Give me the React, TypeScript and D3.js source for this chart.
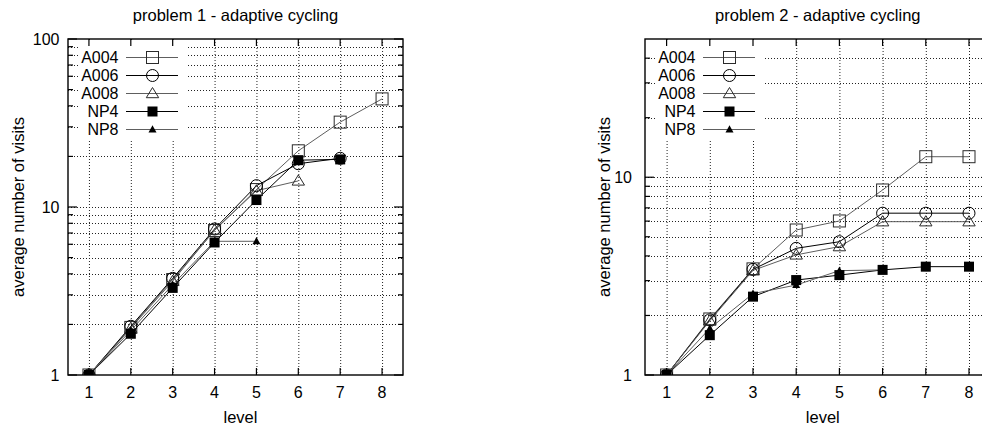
import React from 'react';
import * as d3 from 'd3';

// ---------- data ----------
const levels = [1, 2, 3, 4, 5, 6, 7, 8];
const seriesNames = ['A004', 'A006', 'A008', 'NP4', 'NP8'];

// problem 1
const p1A004 = [1, 1.92, 3.7, 7.25, 12.7, 21.6, 32, 44];
const p1A006 = [1, 1.95, 3.76, 7.4, 13.4, 18.1, 19.5];
const p1A008 = [1, 1.9, 3.62, 7.3, 12.5, 14.3];
const p1NP4 = [1, 1.76, 3.3, 6.15, 11.0, 19.0, 19.2];
const p1NP8 = [1, 1.84, 3.45, 6.25, 6.25];

// problem 2
const p2A004 = [1, 1.92, 3.44, 5.41, 6.01, 8.62, 12.7, 12.7];
const p2A006 = [1, 1.9, 3.42, 4.37, 4.72, 6.58, 6.58, 6.58];
const p2A008 = [1, 1.88, 3.38, 4.05, 4.46, 5.96, 5.96, 5.96];
const p2NP4 = [1, 1.59, 2.49, 3.02, 3.2, 3.4, 3.53, 3.53];
const p2NP8 = [1, 1.72, 2.58, 2.85, 3.37, 3.4];

const xTicks = [1, 2, 3, 4, 5, 6, 7, 8];
const yMajor1 = [1, 10, 100];
const yMinor1 = [2, 3, 4, 5, 6, 7, 8, 9, 20, 30, 40, 50, 60, 70, 80, 90];
const yMajor2 = [1, 10];
const yMinor2 = [2, 3, 4, 5, 6, 7, 8, 9, 20, 30, 40];
const titles = ['problem 1 - adaptive cycling', 'problem 2 - adaptive cycling'];
const xLabel = 'level';
const yLabel = 'average number of visits';

// ---------- styling ----------
const FONT = "'Liberation Sans', Arial, Helvetica, sans-serif";
const GRAY = '#5e5e5e';
const seriesStyle: Record<string, { color: string; mstroke: string; marker: string }> = {
  A004: { color: GRAY, mstroke: '#2a2a2a', marker: 'sq' },
  A006: { color: '#000', mstroke: '#000', marker: 'circle' },
  A008: { color: GRAY, mstroke: '#2a2a2a', marker: 'tri' },
  NP4: { color: '#000', mstroke: '#000', marker: 'fsq' },
  NP8: { color: GRAY, mstroke: '#000', marker: 'ftri' },
};

function Marker({ type, cx, cy, stroke }: { type: string; cx: number; cy: number; stroke: string }) {
  switch (type) {
    case 'sq':
      return <rect x={cx - 6} y={cy - 6} width={12} height={12} fill="none" stroke={stroke} strokeWidth={1} />;
    case 'circle':
      return <circle cx={cx} cy={cy} r={6} fill="none" stroke={stroke} strokeWidth={1} />;
    case 'tri':
      return (
        <polygon
          points={`${cx},${cy - 6} ${cx + 6.2},${cy + 4.2} ${cx - 6.2},${cy + 4.2}`}
          fill="none"
          stroke={stroke}
          strokeWidth={1}
        />
      );
    case 'fsq':
      return <rect x={cx - 5} y={cy - 5} width={10} height={10} fill="#000" />;
    case 'ftri':
      return <polygon points={`${cx},${cy - 4.2} ${cx + 4},${cy + 3} ${cx - 4},${cy + 3}`} fill="#000" />;
    default:
      return null;
  }
}

type PanelProps = {
  x0: number;
  x1: number;
  y0: number;
  y1: number;
  yMax: number;
  majors: number[];
  minors: number[];
  data: number[][];
  title: string;
  yLabelX: number;
  tickLabelX: number;
  clipId: string;
};

function Panel(p: PanelProps) {
  const x = d3.scaleLinear().domain([0.5, 8.5]).range([p.x0, p.x1]);
  const y = d3.scaleLog().domain([1, p.yMax]).range([p.y1, p.y0]);
  const line = d3
    .line<number>()
    .x((_, i) => x(levels[i]))
    .y((d) => y(d));
  const cxm = (p.x0 + p.x1) / 2;
  const gridY = [...p.majors, ...p.minors].filter((v) => v > 1 && v < p.yMax);
  const legX = p.x0;
  const legTop = p.y0;
  return (
    <g fontFamily={FONT}>
      <clipPath id={p.clipId}>
        <rect x={p.x0} y={p.y0} width={p.x1 - p.x0} height={p.y1 - p.y0} />
      </clipPath>
      {/* grid */}
      <g stroke="#222" strokeWidth={1} strokeDasharray="1 2" fill="none">
        {xTicks.map((t) => (
          <line key={'gx' + t} x1={x(t) + 0.5} x2={x(t) + 0.5} y1={p.y0} y2={p.y1} />
        ))}
        {gridY.map((v) => (
          <line key={'gy' + v} x1={p.x0} x2={p.x1} y1={Math.round(y(v)) + 0.5} y2={Math.round(y(v)) + 0.5} />
        ))}
      </g>
      {/* legend background */}
      <rect x={legX + 10} y={legTop + 1} width={108} height={100} fill="#fff" />
      {/* data */}
      <g clipPath={`url(#${p.clipId})`}>
        {p.data.map((vals, si) => {
          const st = seriesStyle[seriesNames[si]];
          return (
            <path key={'l' + si} d={line(vals) || ''} fill="none" stroke={st.color} strokeWidth={1} />
          );
        })}
        {p.data.map((vals, si) => {
          const st = seriesStyle[seriesNames[si]];
          return (
            <g key={'m' + si}>
              {vals.map((v, i) => (
                <Marker key={i} type={st.marker} cx={x(levels[i])} cy={y(v)} stroke={st.mstroke} />
              ))}
            </g>
          );
        })}
      </g>
      {/* border */}
      <rect x={p.x0} y={p.y0} width={p.x1 - p.x0} height={p.y1 - p.y0} fill="none" stroke="#000" strokeWidth={1.4} />
      {/* ticks */}
      <g stroke="#000" strokeWidth={1.2}>
        {xTicks.map((t) => (
          <g key={'tx' + t}>
            <line x1={x(t)} x2={x(t)} y1={p.y1} y2={p.y1 - 7} />
            <line x1={x(t)} x2={x(t)} y1={p.y0} y2={p.y0 + 7} />
          </g>
        ))}
        {p.majors.map((v) => (
          <g key={'tyM' + v}>
            <line x1={p.x0} x2={p.x0 + 9} y1={y(v)} y2={y(v)} />
            <line x1={p.x1} x2={p.x1 - 9} y1={y(v)} y2={y(v)} />
          </g>
        ))}
        {p.minors.map((v) => (
          <g key={'tym' + v}>
            <line x1={p.x0} x2={p.x0 + 5} y1={y(v)} y2={y(v)} />
            <line x1={p.x1} x2={p.x1 - 5} y1={y(v)} y2={y(v)} />
          </g>
        ))}
      </g>
      {/* tick labels */}
      <g fontSize={16} fill="#000">
        {xTicks.map((t) => (
          <text key={'lx' + t} x={x(t)} y={p.y1 + 22.5} textAnchor="middle">
            {t}
          </text>
        ))}
        {p.majors.map((v) => (
          <text key={'ly' + v} x={p.tickLabelX} y={y(v) + 5.8} textAnchor="end">
            {v}
          </text>
        ))}
      </g>
      {/* titles & labels */}
      <text x={cxm} y={20.5} textAnchor="middle" fontSize={16.5}>
        {p.title}
      </text>
      <text x={cxm + 5} y={422.5} textAnchor="middle" fontSize={16.5}>
        {xLabel}
      </text>
      <text
        transform={`translate(${p.yLabelX},${(p.y0 + p.y1) / 2}) rotate(-90)`}
        textAnchor="middle"
        fontSize={16.5}
      >
        {yLabel}
      </text>
      {/* legend */}
      {seriesNames.map((name, i) => {
        const st = seriesStyle[name];
        const ry = legTop + 18.5 + i * 18;
        return (
          <g key={'leg' + name}>
            <text x={legX + 50.5} y={ry + 5.6} textAnchor="end" fontSize={16}>
              {name}
            </text>
            <line x1={legX + 58} x2={legX + 110} y1={ry} y2={ry} stroke={st.color} strokeWidth={1.2} />
            <Marker type={st.marker} cx={legX + 84.5} cy={ry} stroke={st.mstroke} />
          </g>
        );
      })}
    </g>
  );
}

export default function App() {
  return (
    <div style={{ position: 'absolute', left: 0, top: 0 }}>
      <svg width={982} height={429} style={{ display: 'block', background: '#fff' }}>
        <rect x={0} y={0} width={982} height={429} fill="#fff" />
        <Panel
          x0={68}
          x1={403}
          y0={39}
          y1={375}
          yMax={100}
          majors={yMajor1}
          minors={yMinor1}
          data={[p1A004, p1A006, p1A008, p1NP4, p1NP8]}
          title={titles[0]}
          yLabelX={23.5}
          tickLabelX={59.5}
          clipId="clip1"
        />
        <Panel
          x0={645}
          x1={990.6}
          y0={39}
          y1={375}
          yMax={50}
          majors={yMajor2}
          minors={yMinor2}
          data={[p2A004, p2A006, p2A008, p2NP4, p2NP8]}
          title={titles[1]}
          yLabelX={609.5}
          tickLabelX={632}
          clipId="clip2"
        />
      </svg>
    </div>
  );
}
